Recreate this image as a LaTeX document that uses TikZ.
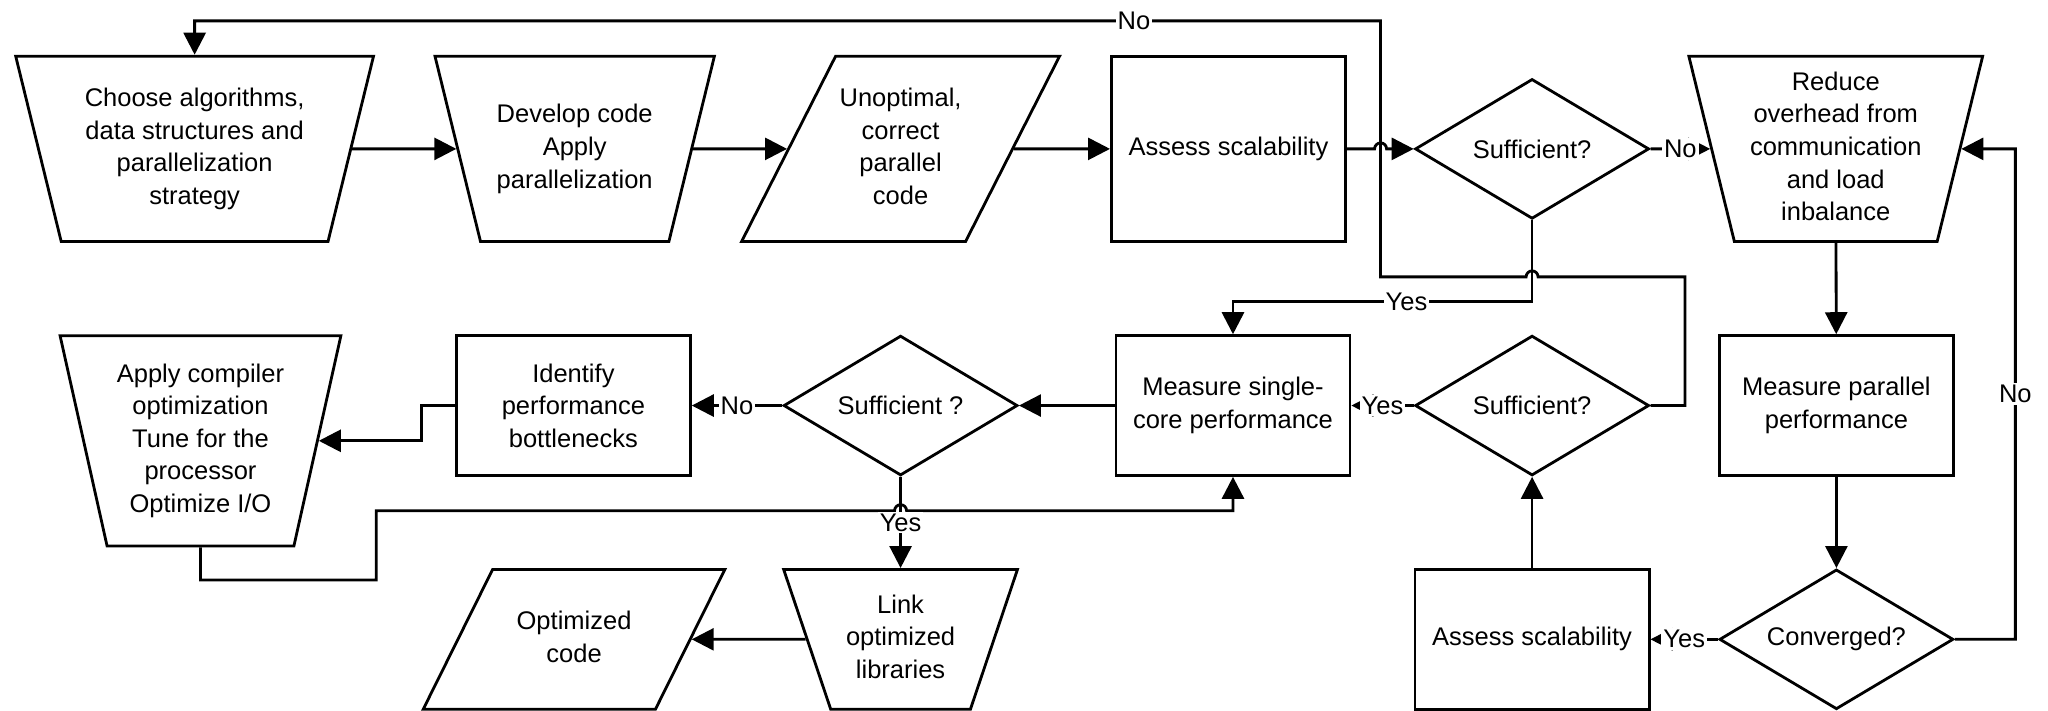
\documentclass[tikz,border=0pt]{standalone}
\usepackage{fontspec}
\setmainfont{Liberation Sans}
\usepackage{tikz}
\usetikzlibrary{shapes.geometric, arrows.meta, positioning}
\tikzstyle{block} = [rectangle, draw, line width=1.4pt, minimum width=117pt, minimum height=69.9pt, align=center, inner sep=2pt]
\tikzstyle{decision} = [diamond, draw, line width=1.4pt, minimum width=117pt, minimum height=69.9pt, aspect=1.67, align=center, inner sep=1pt]
\tikzstyle{trap} = [trapezium, draw, line width=1.4pt, trapezium stretches body=true, inner xsep=2pt, inner ysep=0pt]
\tikzstyle{arrow} = [draw, -{Triangle[length=11pt, width=11pt]}, line width=1.4pt]
\tikzstyle{edgelabel} = [fill=white, inner sep=1pt]
% caja de texto con alto fijo para los trapecios
\newcommand{\alto}[2]{\vbox to #1{\vss\hbox{\begin{tabular}{@{}c@{}}#2\end{tabular}}\vss}}

\begin{document}
\begin{tikzpicture}[x=0.653pt, y=-0.653pt, font=\fontsize{12.75}{16.3}\selectfont]
  \useasboundingbox (0,0) rectangle (1568,544);

  % Fila superior
  \node (choose) [trap, trapezium left angle=103.8, trapezium right angle=103.8, minimum width=178.9pt] at (149,114) {\alto{92.7pt}{Choose algorithms,\\data structures and\\parallelization\\strategy}};
  \node (develop) [trap, trapezium left angle=103.8, trapezium right angle=103.8, minimum width=139.7pt] at (440,114) {\alto{92.7pt}{Develop code\\Apply\\parallelization}};
  \node (unoptimal) [trap, trapezium left angle=63.1, trapezium right angle=116.9, minimum width=153.5pt] at (689.5,114) {\alto{92.7pt}{Unoptimal,\\correct\\parallel\\code}};
  \node (assess1) [block, minimum height=92.7pt] at (940.5,114) {Assess scalability};
  \node (suff1) [decision] at (1173,114) {Sufficient?};
  \node (reduce) [trap, trapezium left angle=103.8, trapezium right angle=103.8, minimum width=146.9pt] at (1405.5,114) {\alto{92.7pt}{Reduce\\overhead from\\communication\\and load\\inbalance}};

  % Fila central
  \node (compiler) [trap, trapezium left angle=102.6, trapezium right angle=102.6, minimum width=140.4pt] at (153.5,337.5) {\alto{105.1pt}{Apply compiler\\optimization\\Tune for the\\processor\\Optimize I/O}};
  \node (identify) [block] at (439,310.5) {Identify\\performance\\bottlenecks};
  \node (suff3) [decision] at (689.5,310.5) {Sufficient ?};
  \node (single) [block] at (944,310.5) {Measure single-\\core performance};
  \node (suff2) [decision] at (1173,310.5) {Sufficient?};
  \node (parallel) [block] at (1406,310.5) {Measure parallel\\performance};

  % Fila inferior
  \node (optimized) [trap, trapezium left angle=63.6, trapezium right angle=116.4, minimum width=150.8pt] at (439.5,489.5) {\alto{69.9pt}{Optimized\\code}};
  \node (link) [trap, trapezium left angle=108.6, trapezium right angle=108.6, minimum width=116.9pt] at (689.5,489.5) {\alto{69.9pt}{Link\\optimized\\libraries}};
  \node (assess2) [block] at (1173,489.5) {Assess scalability};
  \node (converged) [decision] at (1406,489.5) {Converged?};

  % Puntos de paso
  \coordinate (hopa) at (1057,114);
  \coordinate (hopb) at (1173,212);
  \coordinate (hopc) at (689.5,391);
  \coordinate (bend1) at (1290,212);
  \coordinate (bend2) at (1057,212);
  \coordinate (bend3) at (1057,16);
  \coordinate (bend4) at (1173,231);
  \coordinate (bend5) at (1543,114);
  \coordinate (bend6) at (323,310.5);
  \coordinate (bend7) at (288,444);
  \coordinate (bend8) at (288,391);

  % Flechas fila superior
  \draw [arrow] (choose) -- (develop);
  \draw [arrow] (develop) -- (unoptimal);
  \draw [arrow] (unoptimal) -- (assess1);
  \draw [arrow] (assess1) -- ([xshift=-3pt]hopa) arc[start angle=180, end angle=0, radius=3pt] -- (suff1);
  \draw [arrow] (suff1) -- node[edgelabel]{No} (reduce);
  \draw [arrow] (suff1) -- (bend4) -| node[edgelabel, pos=0.21]{Yes} (single);

  % Bucle paralelo
  \draw [arrow] (reduce) -- (parallel);
  \draw [arrow] (parallel) -- (converged);
  \draw [arrow] (converged) -- node[edgelabel]{Yes} (assess2);
  \draw [arrow] (converged) -| node[edgelabel, pos=0.75]{No} (bend5) -- (reduce);
  \draw [arrow] (assess2) -- (suff2);
  \draw [arrow] (suff2) -- node[edgelabel]{Yes} (single);
  \draw [arrow] (suff2) -| (bend1) -- ([xshift=3pt]hopb) arc[start angle=0, end angle=180, radius=3pt] -- (bend2) -- (bend3) -| node[edgelabel, pos=0.104]{No} (choose);

  % Bucle secuencial
  \draw [arrow] (single) -- (suff3);
  \draw [arrow] (suff3) -- node[edgelabel]{No} (identify);
  \draw [arrow] (identify) -- (bend6) |- (compiler);
  \draw [arrow] (compiler.south) |- (bend7) -- (bend8) -- ([xshift=-3pt]hopc) arc[start angle=180, end angle=0, radius=3pt] -| (single);
  \draw [arrow] (suff3) -- node[edgelabel]{Yes} (link);
  \draw [arrow] (link) -- (optimized);

\end{tikzpicture}
\end{document}
